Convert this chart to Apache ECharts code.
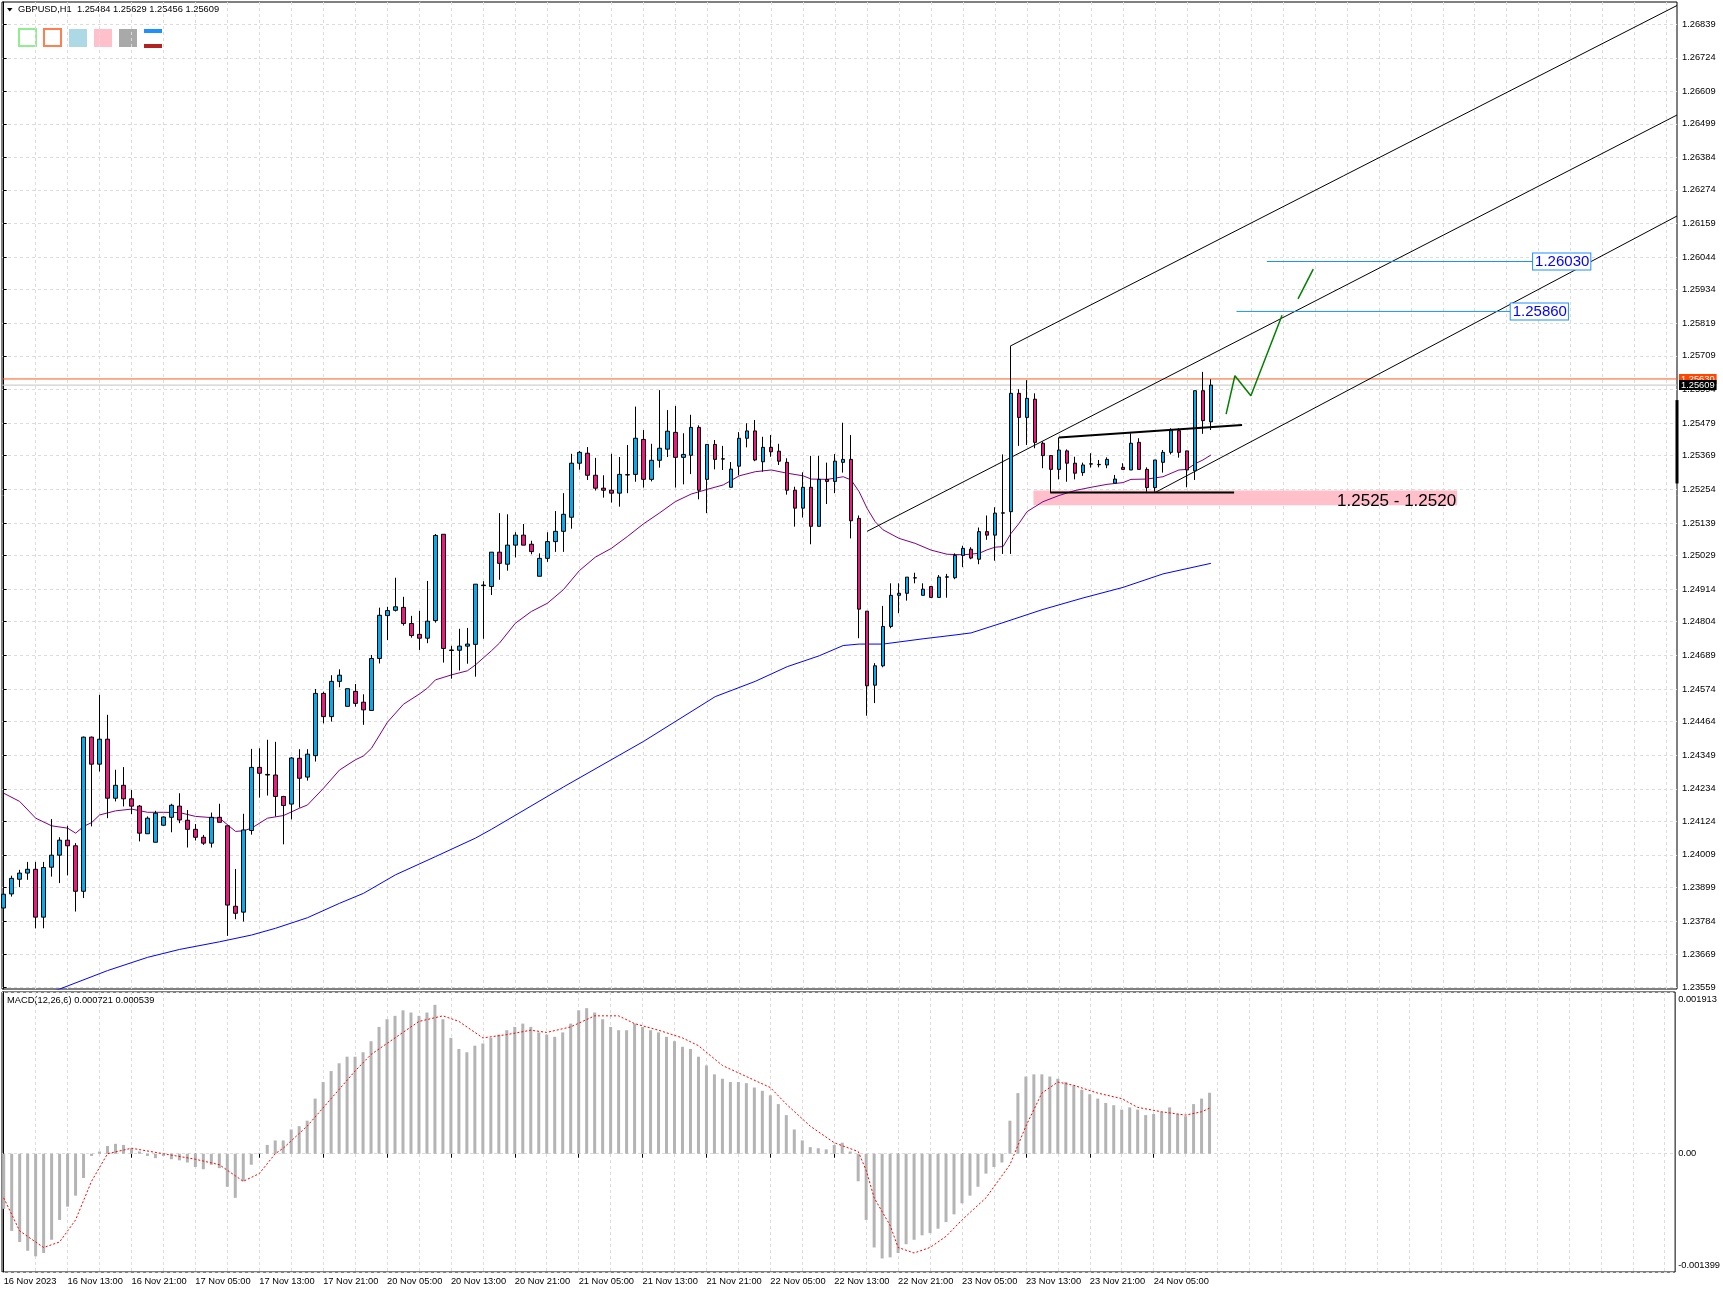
<!DOCTYPE html>
<html><head><meta charset="utf-8">
<script src="https://cdn.jsdelivr.net/npm/echarts@6.0.0/dist/echarts.min.js"></script>
<style>html,body{margin:0;padding:0;background:#fff}#c{width:1723px;height:1293px}</style>
</head><body><div id="c"></div>
<script>
const FONT = '"Liberation Sans", Arial, sans-serif';
const FS = 9.3;

// ---- candles (H1, 16 Nov 05:00 .. 24 Nov 12:00) ----
const opens = [1.23828,1.23876,1.23926,1.23947,1.23960,1.23797,1.23967,1.24008,1.24059,1.24040,
1.23885,1.24410,1.24318,1.24403,1.24202,1.24246,1.24200,1.24175,1.24081,1.24052,
1.24110,1.24137,1.24175,1.24127,1.24096,1.24069,1.24049,1.24137,1.24108,1.23834,
1.23814,1.24092,1.24307,1.24283,1.24281,1.24208,1.24182,1.24338,1.24274,1.24347,
1.24559,1.24480,1.24600,1.24515,1.24566,1.24529,1.24501,1.24678,1.24824,1.24842,
1.24852,1.24797,1.24760,1.24747,1.24807,1.25101,1.24707,1.24706,1.24720,1.24726,
1.24926,1.24923,1.25040,1.24999,1.25064,1.25098,1.25067,1.24958,1.25019,1.25076,
1.25111,1.25159,1.25343,1.25377,1.25302,1.25258,1.25251,1.25241,1.25303,1.25305,
1.25424,1.25288,1.25353,1.25391,1.25448,1.25363,1.25370,1.25465,1.25288,1.25407,
1.25358,1.25261,1.25333,1.25428,1.25453,1.25348,1.25397,1.25384,1.25346,1.25251,
1.25190,1.25261,1.25128,1.25288,1.25281,1.25346,1.25356,1.25155,1.24839,1.24587,
1.24653,1.24787,1.24893,1.24900,1.24952,1.24893,1.24923,1.24886,1.24955,1.24953,
1.25029,1.25050,1.25016,1.25110,1.25098,1.25173,1.25178,1.25581,1.25499,1.25561,
1.25411,1.25369,1.25322,1.25385,1.25343,1.25311,1.25340,1.25338,1.25337,1.25275,
1.25329,1.25320,1.25414,1.25322,1.25260,1.25346,1.25380,1.25454,1.25385,1.25317,
1.25590,1.25484];
const highs = [1.23910,1.23938,1.23958,1.23985,1.23985,1.23985,1.24131,1.24069,1.24108,1.24049,
1.24412,1.24412,1.24554,1.24486,1.24299,1.24308,1.24230,1.24179,1.24140,1.24159,
1.24140,1.24183,1.24219,1.24162,1.24114,1.24077,1.24153,1.24183,1.24108,1.23961,
1.24149,1.24370,1.24372,1.24401,1.24394,1.24210,1.24342,1.24369,1.24369,1.24574,
1.24565,1.24621,1.24641,1.24575,1.24591,1.24556,1.24690,1.24851,1.24854,1.24953,
1.24888,1.24823,1.24840,1.24942,1.25102,1.25101,1.24721,1.24779,1.24782,1.24931,
1.24941,1.25040,1.25173,1.25169,1.25108,1.25136,1.25079,1.25036,1.25108,1.25180,
1.25241,1.25375,1.25385,1.25398,1.25361,1.25302,1.25375,1.25364,1.25405,1.25536,
1.25456,1.25409,1.25592,1.25524,1.25538,1.25445,1.25508,1.25472,1.25407,1.25422,
1.25402,1.25347,1.25449,1.25479,1.25490,1.25433,1.25439,1.25409,1.25360,1.25263,
1.25312,1.25368,1.25368,1.25345,1.25374,1.25481,1.25439,1.25165,1.24839,1.24662,
1.24857,1.24934,1.24934,1.24955,1.24970,1.24934,1.24925,1.24962,1.24966,1.25036,
1.25062,1.25057,1.25124,1.25165,1.25193,1.25373,1.25742,1.25595,1.25626,1.25581,
1.25417,1.25369,1.25431,1.25390,1.25365,1.25345,1.25377,1.25354,1.25363,1.25303,
1.25343,1.25445,1.25428,1.25329,1.25354,1.25388,1.25462,1.25462,1.25385,1.25590,
1.25654,1.25629];
const lows = [1.23822,1.23867,1.23899,1.23924,1.23759,1.23759,1.23935,1.23913,1.23939,1.23816,
1.23862,1.24106,1.24293,1.24134,1.24191,1.24174,1.24148,1.24055,1.24081,1.24052,
1.24108,1.24086,1.24117,1.24034,1.24058,1.24043,1.24034,1.24120,1.23733,1.23790,
1.23782,1.24078,1.24204,1.24211,1.24140,1.24045,1.24130,1.24170,1.24262,1.24327,
1.24457,1.24463,1.24580,1.24515,1.24514,1.24452,1.24501,1.24661,1.24741,1.24838,
1.24790,1.24749,1.24707,1.24730,1.24800,1.24664,1.24609,1.24637,1.24660,1.24616,
1.24745,1.24894,1.24946,1.24977,1.25022,1.25064,1.25033,1.24958,1.25007,1.25041,
1.25041,1.25120,1.25321,1.25286,1.25250,1.25226,1.25209,1.25195,1.25241,1.25280,
1.25260,1.25281,1.25328,1.25364,1.25260,1.25271,1.25306,1.25220,1.25173,1.25322,
1.25320,1.25261,1.25302,1.25397,1.25350,1.25314,1.25365,1.25337,1.25236,1.25127,
1.25158,1.25067,1.25128,1.25204,1.25241,1.25311,1.25087,1.24747,1.24483,1.24526,
1.24648,1.24781,1.24832,1.24875,1.24934,1.24893,1.24886,1.24886,1.24885,1.24948,
1.24989,1.25016,1.24999,1.25082,1.25011,1.25034,1.25034,1.25402,1.25405,1.25394,
1.25326,1.25243,1.25288,1.25280,1.25288,1.25300,1.25328,1.25329,1.25326,1.25275,
1.25320,1.25320,1.25322,1.25246,1.25246,1.25311,1.25373,1.25362,1.25261,1.25286,
1.25443,1.25456];
const closes = [1.23875,1.23929,1.23947,1.23960,1.23797,1.23966,1.24008,1.24059,1.24040,1.23885,
1.24410,1.24318,1.24403,1.24202,1.24246,1.24200,1.24175,1.24083,1.24134,1.24151,
1.24138,1.24178,1.24128,1.24096,1.24069,1.24049,1.24137,1.24120,1.23838,1.23810,
1.24094,1.24307,1.24287,1.24281,1.24208,1.24177,1.24339,1.24270,1.24352,1.24559,
1.24480,1.24600,1.24621,1.24575,1.24525,1.24503,1.24678,1.24825,1.24841,1.24854,
1.24797,1.24756,1.24747,1.24805,1.25097,1.24712,1.24705,1.24720,1.24727,1.24931,
1.24928,1.25040,1.25002,1.25064,1.25098,1.25064,1.25042,1.25019,1.25076,1.25111,
1.25169,1.25343,1.25380,1.25302,1.25258,1.25251,1.25241,1.25305,1.25304,1.25428,
1.25288,1.25353,1.25394,1.25452,1.25363,1.25373,1.25465,1.25251,1.25407,1.25356,
1.25357,1.25323,1.25428,1.25453,1.25354,1.25397,1.25382,1.25350,1.25251,1.25190,
1.25261,1.25128,1.25288,1.25281,1.25350,1.25356,1.25147,1.24846,1.24585,1.24653,
1.24787,1.24893,1.24900,1.24955,1.24953,1.24914,1.24886,1.24955,1.24956,1.25029,
1.25053,1.25020,1.25110,1.25098,1.25173,1.25174,1.25581,1.25499,1.25564,1.25414,
1.25369,1.25322,1.25388,1.25343,1.25309,1.25337,1.25341,1.25339,1.25356,1.25289,
1.25322,1.25411,1.25322,1.25260,1.25354,1.25380,1.25454,1.25380,1.25320,1.25590,
1.25488,1.25609];

// moving averages: [bar index, price]
const maPurple = [[0,1.24219],[2,1.24191],[4,1.24134],[6,1.24108],[8,1.24100],[9,1.24083],[10,1.24106],[11,1.24119],[12,1.24145],[14,1.24159],[16,1.24165],[18,1.24154],[20,1.24154],[22,1.24153],[24,1.24140],[26,1.24136],[27,1.24134],[29,1.24089],[30,1.24091],[31,1.24100],[33,1.24134],[35,1.24143],[37,1.24168],[38,1.24179],[40,1.24236],[42,1.24298],[44,1.24333],[45,1.24346],[46,1.24372],[48,1.24461],[50,1.24522],[52,1.24557],[53,1.24577],[54,1.24605],[56,1.24622],[58,1.24636],[59,1.24656],[60,1.24680],[61,1.24704],[62,1.24730],[64,1.24798],[66,1.24838],[68,1.24866],[70,1.24912],[72,1.24977],[74,1.25023],[76,1.25053],[78,1.25093],[80,1.25136],[82,1.25173],[84,1.25212],[86,1.25238],[88,1.25254],[90,1.25269],[92,1.25300],[94,1.25314],[96,1.25320],[98,1.25309],[100,1.25300],[101,1.25289],[103,1.25288],[104,1.25292],[105,1.25297],[106,1.25286],[107,1.25246],[108,1.25189],[109,1.25144],[110,1.25116],[112,1.25087],[114,1.25070],[116,1.25047],[118,1.25033],[120,1.25031],[122,1.25036],[123,1.25048],[124,1.25057],[125,1.25059],[126,1.25104],[127,1.25138],[128,1.25178],[130,1.25212],[132,1.25233],[134,1.25250],[136,1.25261],[138,1.25271],[140,1.25277],[141,1.25288],[143,1.25289],[145,1.25297],[147,1.25320],[148,1.25322],[149,1.25341],[150,1.25354],[151,1.25371]];
const maBlue = [[0,1.23490],[7,1.23552],[13,1.23615],[18,1.23660],[22,1.23687],[27,1.23713],[31,1.23736],[34,1.23759],[38,1.23795],[42,1.23844],[45,1.23878],[49,1.23941],[54,1.24003],[59,1.24066],[61,1.24096],[70,1.24240],[80,1.24395],[89,1.24548],[94,1.24600],[98,1.24650],[102,1.24687],[105,1.24722],[107,1.24727],[110,1.24727],[115,1.24745],[119,1.24758],[121,1.24765],[125,1.24800],[130,1.24845],[135,1.24884],[140,1.24920],[145,1.24966],[151,1.25002]];

// MACD(12,26,6)
const macdHist = [-0.000652,-0.000913,-0.001044,-0.001148,-0.001213,-0.001174,-0.001018,-0.000783,-0.000626,-0.000496,
-0.000287,-0.000026,0.000026,0.000091,0.000117,0.000104,0.000065,0.000026,-0.000026,-0.000052,
-0.000026,-0.000065,-0.000078,-0.000104,-0.000157,-0.000183,-0.000130,-0.000170,-0.000391,-0.000522,
-0.000326,-0.000130,0.000010,0.000104,0.000157,0.000157,0.000287,0.000326,0.000391,0.000652,
0.000848,0.000978,0.001070,0.001148,0.001148,0.001200,0.001331,0.001500,0.001591,0.001631,
0.001696,0.001670,0.001631,0.001670,0.001761,0.001591,0.001370,0.001239,0.001200,0.001278,
0.001304,0.001370,0.001409,0.001461,0.001500,0.001539,0.001500,0.001435,0.001409,0.001383,
0.001435,0.001539,0.001696,0.001722,0.001670,0.001591,0.001500,0.001461,0.001461,0.001539,
0.001500,0.001461,0.001435,0.001383,0.001331,0.001265,0.001239,0.001148,0.001044,0.000939,
0.000887,0.000848,0.000848,0.000835,0.000783,0.000744,0.000691,0.000587,0.000457,0.000287,
0.000157,0.000078,0.000065,0.000052,0.000104,0.000130,0.000026,-0.000326,-0.000783,-0.001109,
-0.001239,-0.001226,-0.001174,-0.001070,-0.001018,-0.000965,-0.000939,-0.000887,-0.000809,-0.000717,
-0.000587,-0.000496,-0.000391,-0.000235,-0.000157,-0.000104,0.000391,0.000717,0.000913,0.000939,
0.000939,0.000913,0.000887,0.000848,0.000809,0.000757,0.000704,0.000652,0.000600,0.000574,
0.000522,0.000548,0.000522,0.000457,0.000470,0.000496,0.000548,0.000470,0.000444,0.000587,
0.000652,0.000721];
const macdSignal = [[0,-0.000522],[2,-0.000913],[5,-0.001109],[7,-0.001044],[9,-0.000783],[11,-0.000326],[13,0.0],[16,0.000065],[20,0.0],[24,-0.000065],[27,-0.000130],[29,-0.000261],[30,-0.000326],[32,-0.000235],[34,0.0],[35,0.000065],[38,0.000326],[41,0.000652],[44,0.000978],[46,0.001174],[49,0.001370],[52,0.001565],[55,0.001631],[57,0.001565],[60,0.001370],[63,0.001409],[66,0.001461],[68,0.001435],[71,0.001500],[74,0.001631],[77,0.001631],[79,0.001539],[82,0.001461],[85,0.001370],[87,0.001278],[90,0.001044],[93,0.000913],[96,0.000783],[98,0.000587],[101,0.000326],[104,0.000130],[107,0.000026],[108,-0.000196],[109,-0.000522],[111,-0.000848],[112,-0.001109],[114,-0.001174],[116,-0.001109],[118,-0.000978],[120,-0.000783],[123,-0.000522],[126,-0.000130],[128,0.000326],[130,0.000717],[132,0.000848],[134,0.000809],[137,0.000717],[140,0.000652],[142,0.000548],[145,0.000496],[148,0.000457],[150,0.000496],[151,0.000539]];

// axis ticks / labels
const priceTicks = [1.26839,1.26724,1.26609,1.26499,1.26384,1.26274,1.26159,1.26044,1.25934,1.25819,1.25709,1.25594,1.25479,1.25369,1.25254,1.25139,1.25029,1.24914,1.24804,1.24689,1.24574,1.24464,1.24349,1.24234,1.24124,1.24009,1.23899,1.23784,1.23669,1.23559];
const macdTicks = [0.001913, 0, -0.001399];
const dateTickIdx = [0,8,16,24,32,40,48,56,64,72,80,88,96,104,112,120,128,136,144];
const dateLabels = ['16 Nov 2023','16 Nov 13:00','16 Nov 21:00','17 Nov 05:00','17 Nov 13:00','17 Nov 21:00','20 Nov 05:00','20 Nov 13:00','20 Nov 21:00','21 Nov 05:00','21 Nov 13:00','21 Nov 21:00','22 Nov 05:00','22 Nov 13:00','22 Nov 21:00','23 Nov 05:00','23 Nov 13:00','23 Nov 21:00','24 Nov 05:00'];
const gridCols = [4,8,12,16,20,24,28,32,36,40,44,48,52,56,60,64,68,72,76,80,84,88,92,96,100,104,108,112,116,120,124,128,132,136,140,144,148,152,156,160,164,168,172,176,180,184,188,192,196,200,204,208];

// drawn objects, in [bar index, price]
const chanUpper = [[125.9,1.25742],[209.3,1.26902]];
const chanMiddle = [[108.0,1.25111],[209.3,1.26529]];
const chanLower = [[144.0,1.25243],[209.3,1.26185]];
const resistLine = [[132,1.25431],[154.9,1.25473]];
const supportLine = [[130.9,1.25243],[153.9,1.25243]];
const target1 = [[158.0,1.26030],[191.3,1.26030]];
const target2 = [[154.2,1.25860],[188.5,1.25860]];
const arrowPath1 = [[152.9,1.25510],[154.0,1.25641],[156.0,1.25573],[159.9,1.25847]];
const arrowPath2 = [[161.9,1.25903],[163.8,1.26004]];
const zoneBox = [[128.8,1.2525],[181.8,1.2520]];
const bidPrice = 1.25609, askPrice = 1.25630;
const rangeBar = [1.25558, 1.25274];

const XMIN = -0.213, XMAX = 209.3;
const dateMap = {}; dateTickIdx.forEach((k,j)=>dateMap[k]=dateLabels[j]);

const candleData = opens.map((o,i)=>[i,o,closes[i],lows[i],highs[i]]);
const histData = macdHist.map((v,i)=>[i,v]);

const gridLine = {show:true, lineStyle:{color:'#dcdcdc', width:1, type:[3,3]}};
const txt = {fontFamily:FONT, fontSize:FS, color:'#000'};

function lineS(data, color, width, extra){
  return Object.assign({type:'line', xAxisIndex:0, yAxisIndex:0, data:data, symbol:'none', silent:true,
    lineStyle:{color:color, width:width}, z:4, animation:false}, extra||{});
}
function targetLabel(t){
  return {show:true, formatter:t, color:'#0000ff', fontSize:15, fontFamily:FONT, backgroundColor:'#fff',
    borderColor:'#1e90ff', borderWidth:1, padding:[1,1,0,2], distance:0};
}
function priceLabel(t, bg){
  return {show:true, formatter:t, color:'#fff', fontSize:FS, fontFamily:FONT, backgroundColor:bg,
    padding:[1,2,0,2], distance:2};
}

const chart = echarts.init(document.getElementById('c'));
chart.setOption({
  animation:false,
  backgroundColor:'#fff',
  grid:[
    {left:2, right:46, top:2, height:987, show:true, borderColor:'#000', borderWidth:1},
    {left:2, right:46, top:992, height:280, show:true, borderColor:'#000', borderWidth:1}
  ],
  xAxis:[
    {type:'value', gridIndex:0, min:XMIN, max:XMAX, axisLine:{show:false}, axisLabel:{show:false},
     axisTick:{show:false, customValues:gridCols}, splitLine:gridLine},
    {type:'value', gridIndex:1, min:XMIN, max:XMAX, position:'bottom', axisLine:{show:false},
     axisTick:{show:true, length:4, customValues:dateTickIdx, lineStyle:{color:'#000'}},
     axisLabel:Object.assign({customValues:dateTickIdx, formatter:v=>dateMap[Math.round(v)]||'', align:'left', margin:5}, txt),
     splitLine:{show:false}},
    {type:'value', gridIndex:1, min:XMIN, max:XMAX, position:'top', axisLine:{show:false}, axisLabel:{show:false},
     axisTick:{show:false, customValues:gridCols}, splitLine:gridLine}
  ],
  yAxis:[
    {type:'value', gridIndex:0, position:'right', min:1.235522, max:1.269139,
     axisLine:{show:true, lineStyle:{color:'#000'}},
     axisTick:{show:true, length:3, customValues:priceTicks, lineStyle:{color:'#000'}},
     axisLabel:Object.assign({customValues:priceTicks, formatter:v=>v.toFixed(5), margin:5}, txt),
     splitLine:gridLine},
    {type:'value', gridIndex:1, position:'right', min:-0.001399, max:0.001913,
     axisLine:{show:true, lineStyle:{color:'#000'}},
     axisTick:{show:false, customValues:macdTicks},
     axisLabel:Object.assign({customValues:macdTicks, margin:3,
       formatter:v=> v>0.0015 ? '{t|0.001913}' : (v< -0.001 ? '{b|-0.001399}' : '0.00'),
       rich:{t:{fontFamily:FONT,fontSize:FS,color:'#000',padding:[15,0,0,0]}, b:{fontFamily:FONT,fontSize:FS,color:'#000',padding:[0,0,13,0]}}}, txt),
     splitLine:gridLine}
  ],
  graphic:[
    {type:'polygon', shape:{points:[[7,8],[12.5,8],[9.75,11.5]]}, style:{fill:'#000'}},
    {type:'text', left:18, top:5, style:{text:'GBPUSD,H1  1.25484 1.25629 1.25456 1.25609', font:FS+'px '+FONT, fill:'#000'}},
    {type:'rect', shape:{x:19, y:29, width:17, height:17}, style:{fill:'#fff', stroke:'#90ee90', lineWidth:2}},
    {type:'rect', shape:{x:44, y:29, width:17, height:17}, style:{fill:'#fff', stroke:'#ff7f50', lineWidth:2}},
    {type:'rect', shape:{x:69, y:29, width:18, height:18}, style:{fill:'#add8e6'}},
    {type:'rect', shape:{x:94, y:29, width:18, height:18}, style:{fill:'#ffc0cb'}},
    {type:'rect', shape:{x:119, y:29, width:18, height:18}, style:{fill:'#a9a9a9'}},
    {type:'rect', shape:{x:144, y:29, width:18, height:4}, style:{fill:'#1e90ff'}},
    {type:'rect', shape:{x:144, y:44, width:18, height:4}, style:{fill:'#b22222'}},
    {type:'text', left:7, top:996, style:{text:'MACD(12,26,6) 0.000721 0.000539', font:FS+'px '+FONT, fill:'#000'}}
  ],
  series:[
    {type:'line', xAxisIndex:0, yAxisIndex:0, data:[], silent:true, z:1,
     markArea:{silent:true, itemStyle:{color:'#ffc0cb'},
       label:{show:true, position:'insideRight', distance:1, offset:[0,3], formatter:'1.2525 - 1.2520', fontSize:17, fontFamily:FONT, color:'#000'},
       data:[[{coord:zoneBox[0]},{coord:zoneBox[1]}]]}},
    lineS(maBlue, '#0000ff', 1),
    lineS(maPurple, '#800080', 1),
    lineS([[XMIN,askPrice],[XMAX,askPrice]], '#ff5a1f', 1, {z:3, endLabel:priceLabel('1.25630','#ff4500')}),
    lineS([[XMIN,bidPrice],[XMAX,bidPrice]], '#c4c4c4', 1, {z:3.5, endLabel:priceLabel('1.25609','#000')}),
    {type:'candlestick', xAxisIndex:0, yAxisIndex:0, data:candleData, barWidth:4, z:5, silent:true,
     itemStyle:{color:'#00aeef', color0:'#f0167f', borderColor:'#000', borderColor0:'#000', borderWidth:1}},
    lineS(chanUpper, '#000', 1),
    lineS(chanMiddle, '#000', 1),
    lineS(chanLower, '#000', 1),
    lineS(resistLine, '#000', 2, {z:6}),
    lineS(supportLine, '#000', 2, {z:6}),
    lineS(target1, '#1e90ff', 1, {endLabel:targetLabel('1.26030')}),
    lineS(target2, '#1e90ff', 1, {endLabel:targetLabel('1.25860')}),
    lineS(arrowPath1, '#008000', 1.5),
    lineS(arrowPath2, '#008000', 1.5),
    lineS([[XMAX,rangeBar[0]],[XMAX,rangeBar[1]]], '#000', 3, {clip:false, z:7}),
    {type:'bar', xAxisIndex:1, yAxisIndex:1, data:histData, barWidth:3, silent:true,
     itemStyle:{color:'#b4b4b4'}, z:3},
    {type:'line', xAxisIndex:1, yAxisIndex:1, data:macdSignal, symbol:'none', silent:true, z:4,
     lineStyle:{color:'#ff0000', width:1, type:[2,2]}}
  ]
});
</script></body></html>
